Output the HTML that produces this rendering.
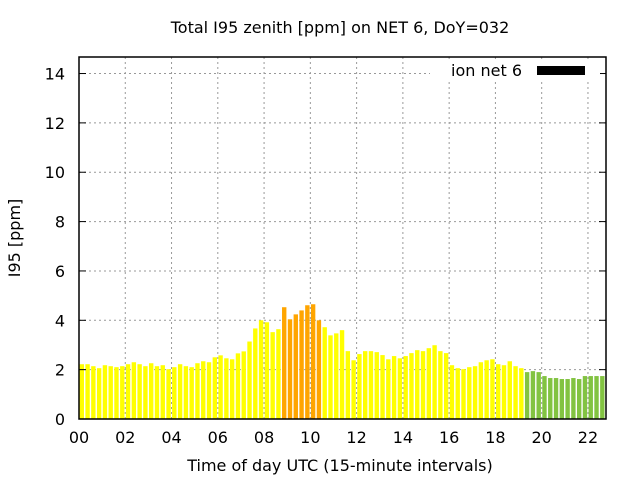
<!DOCTYPE html>
<html><head><meta charset="utf-8"><style>
body{margin:0;background:#fff;}
svg text{font-family:"DejaVu Sans","Liberation Sans",sans-serif;fill:#000;}
</style></head><body>
<svg id="chart" width="640" height="480" xmlns="http://www.w3.org/2000/svg">
<defs><clipPath id="pc"><rect x="79" y="57" width="527" height="362"/></clipPath></defs>
<text x="340" y="33" font-size="16" text-anchor="middle">Total I95 zenith [ppm] on NET 6, DoY=032</text>
<text x="340" y="471" font-size="16" text-anchor="middle">Time of day UTC (15-minute intervals)</text>
<text transform="translate(20,238) rotate(-90)" font-size="16" text-anchor="middle">I95 [ppm]</text>
<g id="grid"></g>
<g id="bars" clip-path="url(#pc)"></g>
<g id="ticks"></g>
<rect x="79" y="57" width="527" height="362" fill="none" stroke="#000" stroke-width="1.5"/>
<rect x="430" y="60" width="170" height="20" fill="#fff"/>
<text x="522" y="76" font-size="16" text-anchor="end">ion net 6</text>
<rect x="537" y="66" width="48" height="9" fill="#000"/>
</svg>
<script>
const values=[2.22,2.22,2.14,2.06,2.18,2.14,2.10,2.14,2.22,2.30,2.22,2.14,2.26,2.14,2.18,2.02,2.10,2.22,2.14,2.10,2.26,2.34,2.30,2.50,2.58,2.46,2.42,2.66,2.74,3.14,3.67,
4.00,3.92,3.52,3.64,4.53,4.04,4.24,4.40,4.61,4.65,4.00,3.72,3.39,3.47,3.60,2.75,2.38,2.63,2.75,2.75,2.71,2.59,2.42,2.55,2.46,2.55,2.67,2.79,2.75,
2.87,2.99,2.75,2.67,2.18,2.06,2.02,2.10,2.14,2.30,2.38,2.42,2.22,2.18,2.34,2.14,2.06,
1.90,1.94,1.90,1.74,1.66,1.66,1.62,1.62,1.66,1.62,1.74,1.74,1.74,1.74,1.66];
const colorClass=[];
for(let i=0;i<values.length;i++){colorClass.push(i>=77?'g':((i>=35&&i<=41)?'o':'y'));}
const xTicks=['00','02','04','06','08','10','12','14','16','18','20','22'];
const yTicks=[0,2,4,6,8,10,12,14];
const X0=79,X1=606,Y0=419,XMAX=22.78,YMAX=14.67;
const sx=h=>X0+h*(X1-X0)/XMAX;
const sy=v=>Y0-v*(Y0-57)/YMAX;
const NS='http://www.w3.org/2000/svg';
const cols={y:'#ffff00',o:'#ffa500',g:'#82c341'};
const grid=document.getElementById('grid'),ticks=document.getElementById('ticks'),bars=document.getElementById('bars');
function mk(t,a,p){const e=document.createElementNS(NS,t);for(const k in a)e.setAttribute(k,a[k]);p.appendChild(e);return e;}
yTicks.forEach(v=>{const y=sy(v);
 if(v>0){const l=mk('line',{x1:X0,x2:X1,y1:y,y2:y,stroke:'#999','stroke-dasharray':'2,3'},grid);
 
 }
 const t=mk('line',{x1:X0,x2:X0+7,y1:y,y2:y,stroke:'#000'},ticks);
 
 
 const t2=mk('line',{x1:X1-7,x2:X1,y1:y,y2:y,stroke:'#000'},ticks);
 
 
 const tx=mk('text',{x:X0-14,y:y+6,'font-size':16,'text-anchor':'end'},ticks);tx.textContent=v;
 
 
});
xTicks.forEach(s=>{const x=sx(parseInt(s,10));
 if(x>X0+1){const l=mk('line',{x1:x,x2:x,y1:57,y2:Y0,stroke:'#999','stroke-dasharray':'2,3'},grid);
 
 }
 const tx=mk('text',{x:x,y:443,'font-size':16,'text-anchor':'middle'},ticks);tx.textContent=s;
 
 
});
const bw=(sx(0.25)-sx(0));
values.forEach((v,i)=>{const x=sx(i*0.25);
 const r=mk('rect',{x:x+0.6,y:sy(v),width:bw-1.4,height:Y0-sy(v),fill:cols[colorClass[i]]},bars);
 
 
});
</script>
</body></html>
